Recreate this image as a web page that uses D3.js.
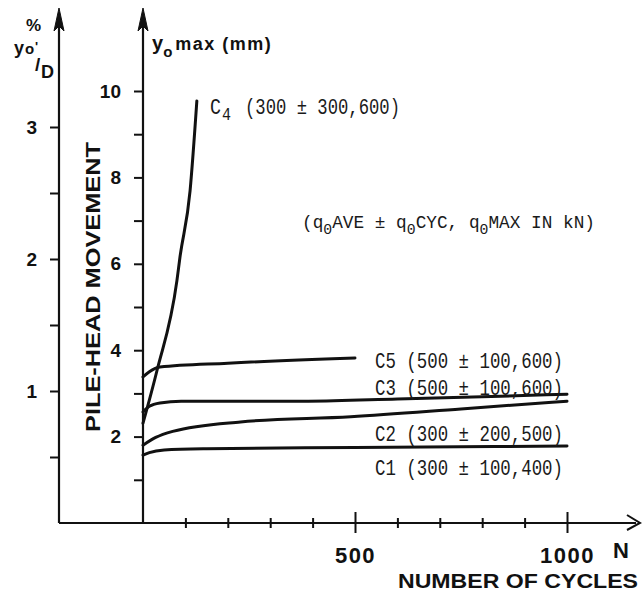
<!DOCTYPE html>
<html>
<head>
<meta charset="utf-8">
<script src="https://cdn.jsdelivr.net/npm/d3@7"></script>
<style>
  body { margin: 0; background: #fff; }
  svg { display: block; }
</style>
</head>
<body>
<svg id="chart" width="642" height="592"></svg>
<script>
// Tick values for the three axes
const cycleTicks = [100, 200, 300, 400, 500, 600, 700, 800, 900, 1000];
const cycleTickLabels = [500, 1000];
const mmTicks = [1, 2, 3, 4, 5, 6, 7, 8, 9, 10];
const mmTickLabels = [2, 4, 6, 8, 10];
const pctTicks = [0.5, 1, 1.5, 2, 2.5, 3];
const pctTickLabels = [1, 2, 3];

// Pile-head movement y0 max (mm) against number of cycles N
const seriesC1 = [[0, 1.57], [15, 1.63], [50, 1.69], [150, 1.72], [500, 1.75], [1000, 1.78]];
const seriesC2 = [[0, 1.80], [30, 1.98], [70, 2.12], [230, 2.34], [490, 2.46], [750, 2.64], [1000, 2.82]];
const seriesC3 = [[0, 2.57], [15, 2.70], [40, 2.78], [90, 2.82], [390, 2.82], [600, 2.87], [1000, 2.98]];
const seriesC4 = [[0, 2.31], [33, 3.53], [80, 5.61], [87, 6.14], [111, 7.69], [127, 9.77]];
const seriesC5 = [[0, 3.38], [15, 3.50], [40, 3.61], [200, 3.70], [500, 3.82]];

// Test names and loads (q0AVE ± q0CYC, q0MAX in kN)
const testNames = ["C1", "C2", "C3", "C4", "C5"];
const testLoads = ["(300 ± 100,400)", "(300 ± 200,500)", "(500 ± 100,600)", "(300 ± 300,600)", "(500 ± 100,600)"];

const svg = d3.select("#chart");
const ink = "#111";
const sans = "'Liberation Sans', Arial, Helvetica, sans-serif";
const mono = "'Liberation Mono', 'DejaVu Sans Mono', monospace";

const x = d3.scaleLinear().domain([0, 1000]).range([143, 567]);
const yMm = d3.scaleLinear().domain([0, 10]).range([523, 91]);
const yPct = d3.scaleLinear().domain([0, 3]).range([523, 127]);

const leftAxisX = 59;
const midAxisX = x(0);
const baseY = yMm(0);

// ---- axis lines with arrowheads ----
const axisG = svg.append("g").attr("stroke", ink).attr("fill", "none");
axisG.append("line").attr("x1", leftAxisX).attr("x2", leftAxisX).attr("y1", baseY).attr("y2", 14).attr("stroke-width", 2.2);
axisG.append("line").attr("x1", midAxisX).attr("x2", midAxisX).attr("y1", baseY).attr("y2", 14).attr("stroke-width", 2.2);
axisG.append("line").attr("x1", leftAxisX).attr("x2", 636).attr("y1", baseY).attr("y2", baseY).attr("stroke-width", 2.2);

function upArrow(cx) {
  svg.append("path")
    .attr("d", `M${cx},8 L${cx - 5},31 L${cx},26 L${cx + 5},31 Z`)
    .attr("fill", ink).attr("stroke", ink).attr("stroke-width", 1);
}
upArrow(leftAxisX);
upArrow(midAxisX);
svg.append("path")
  .attr("d", `M627,515 L640,${baseY} L627,530`)
  .attr("fill", "none").attr("stroke", ink).attr("stroke-width", 2);

// ---- vertical axes ----
function styleAxis(g) {
  g.select(".domain").remove();
  g.selectAll(".tick line").attr("stroke", ink).attr("stroke-width", 2);
  g.selectAll(".tick text")
    .attr("fill", ink)
    .attr("font-family", sans)
    .attr("font-weight", "bold")
    .attr("font-size", 19);
}

svg.append("g")
  .attr("transform", `translate(${midAxisX},0)`)
  .call(d3.axisLeft(yMm).tickValues(mmTicks).tickSize(9).tickPadding(13)
    .tickFormat(d => mmTickLabels.includes(d) ? d : ""))
  .call(styleAxis);

svg.append("g")
  .attr("transform", `translate(${leftAxisX},0)`)
  .call(d3.axisLeft(yPct).tickValues(pctTicks).tickSize(9).tickPadding(13)
    .tickFormat(d => pctTickLabels.includes(d) ? d : ""))
  .call(styleAxis);

// ---- horizontal axis: ticks cross the line ----
const xAxisG = svg.append("g")
  .attr("transform", `translate(0,${baseY})`)
  .call(d3.axisBottom(x).tickValues(cycleTicks).tickSize(0).tickPadding(24)
    .tickFormat(d => cycleTickLabels.includes(d) ? d : ""));
xAxisG.select(".domain").remove();
xAxisG.selectAll(".tick line")
  .attr("stroke", ink).attr("stroke-width", 2)
  .attr("y1", d => cycleTickLabels.includes(d) ? -11 : -5)
  .attr("y2", d => cycleTickLabels.includes(d) ? 10 : 5);
xAxisG.selectAll(".tick text")
  .attr("fill", ink).attr("font-family", sans).attr("font-weight", "bold")
  .attr("font-size", 22).attr("letter-spacing", 1.5);

// ---- curves ----
const line = d3.line()
  .x(d => x(d[0]))
  .y(d => yMm(d[1]))
  .curve(d3.curveMonotoneX);

[seriesC1, seriesC2, seriesC3, seriesC5, seriesC4].forEach(s => {
  svg.append("path")
    .attr("d", line(s))
    .attr("fill", "none")
    .attr("stroke", ink)
    .attr("stroke-width", 3)
    .attr("stroke-linecap", "round")
    .attr("stroke-linejoin", "round");
});

// ---- curve labels (condensed typewriter style) ----
function monoText(str, px, py, width, size) {
  return svg.append("text")
    .attr("x", px).attr("y", py)
    .attr("font-family", mono).attr("font-size", size)
    .attr("fill", "#1a1a1a")
    .attr("textLength", width).attr("lengthAdjust", "spacingAndGlyphs")
    .text(str);
}
// C4 carries its number as a subscript
monoText(testNames[3][0], 210, 114, 11, 22);
monoText(testNames[3].slice(1), 222, 120, 9, 19);
monoText(testLoads[3], 245, 114, 155, 22);

monoText(testNames[4] + " " + testLoads[4], 375, 368, 188, 22);
monoText(testNames[2] + " " + testLoads[2], 375, 395, 188, 22);
monoText(testNames[1] + " " + testLoads[1], 375, 441, 188, 22);
monoText(testNames[0] + " " + testLoads[0], 375, 475, 188, 22);

// Note on the load notation
const note = svg.append("text")
  .attr("x", 302).attr("y", 228)
  .attr("font-family", mono).attr("font-size", 18).attr("fill", "#1a1a1a")
  .attr("textLength", 293).attr("lengthAdjust", "spacingAndGlyphs");
note.append("tspan").text("(q");
note.append("tspan").attr("dy", 6).attr("font-size", 15).text("0");
note.append("tspan").attr("dy", -6).text("AVE ± q");
note.append("tspan").attr("dy", 6).attr("font-size", 15).text("0");
note.append("tspan").attr("dy", -6).text("CYC, q");
note.append("tspan").attr("dy", 6).attr("font-size", 15).text("0");
note.append("tspan").attr("dy", -6).text("MAX IN kN)");

// ---- axis titles ----
svg.append("text")
  .attr("transform", "translate(100,287) rotate(-90)")
  .attr("text-anchor", "middle")
  .attr("font-family", sans).attr("font-weight", "bold").attr("font-size", 21)
  .attr("fill", ink)
  .attr("textLength", 290).attr("lengthAdjust", "spacingAndGlyphs")
  .text("PILE-HEAD MOVEMENT");

const mmTitle = svg.append("text")
  .attr("x", 152).attr("y", 50)
  .attr("font-family", sans).attr("font-weight", "bold").attr("font-size", 18)
  .attr("fill", ink);
mmTitle.append("tspan").attr("font-size", 20).text("y");
mmTitle.append("tspan").attr("dy", 7).attr("font-size", 15).text("o");
mmTitle.append("tspan").attr("dy", -7).attr("dx", 3).attr("letter-spacing", 1.5).text("max (mm)");

// Left axis title: "%" above y'o / D, each piece placed on its own
const pctTitle = svg.append("g")
  .attr("font-family", sans).attr("font-weight", "bold").attr("fill", ink);
pctTitle.append("text").attr("x", 26).attr("y", 31).attr("font-size", 17).text("%");
pctTitle.append("text").attr("x", 14).attr("y", 54).attr("font-size", 18).text("y");
pctTitle.append("text").attr("x", 25).attr("y", 54).attr("font-size", 15).text("o");
pctTitle.append("text").attr("x", 35).attr("y", 51).attr("font-size", 13).text("'");
pctTitle.append("text").attr("x", 35).attr("y", 71).attr("font-size", 19).text("/");
pctTitle.append("text").attr("x", 41).attr("y", 78).attr("font-size", 18).text("D");

// "N" at the end of the cycle axis and its title
svg.append("text")
  .attr("x", 613).attr("y", 558)
  .attr("font-family", sans).attr("font-weight", "bold").attr("font-size", 22)
  .attr("fill", ink).text("N");

svg.append("text")
  .attr("x", 638).attr("y", 588)
  .attr("text-anchor", "end")
  .attr("font-family", sans).attr("font-weight", "bold").attr("font-size", 21)
  .attr("fill", ink)
  .attr("textLength", 240).attr("lengthAdjust", "spacingAndGlyphs")
  .text("NUMBER OF CYCLES");
</script>
</body>
</html>
